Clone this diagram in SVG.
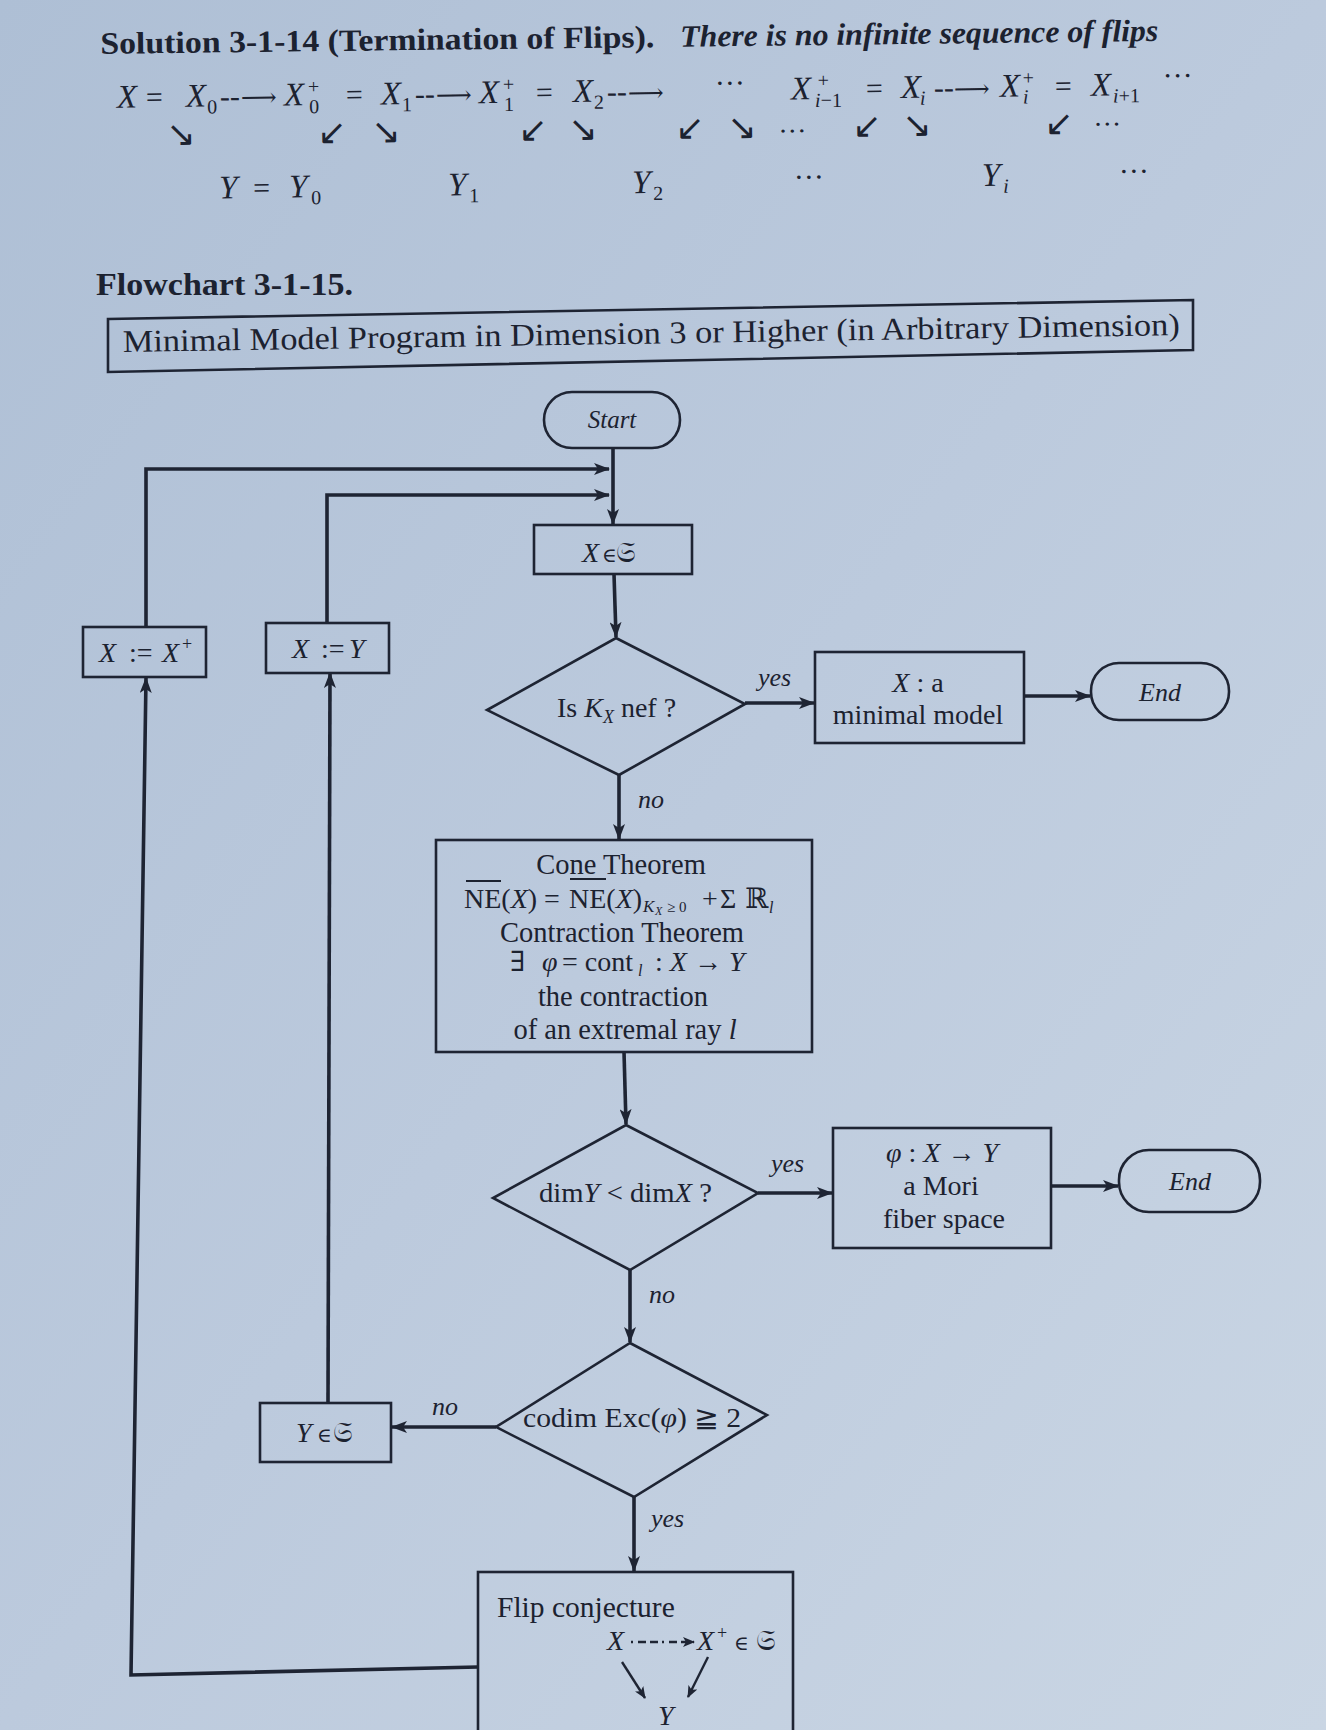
<svg xmlns="http://www.w3.org/2000/svg" width="1326" height="1730" viewBox="0 0 1326 1730">
<defs>
<linearGradient id="bg" x1="0" y1="0" x2="1" y2="1">
<stop offset="0" stop-color="#aebfd5"/>
<stop offset="0.5" stop-color="#bccadd"/>
<stop offset="1" stop-color="#cad6e4"/>
</linearGradient>
<marker id="ah" markerWidth="16" markerHeight="12" refX="15" refY="6" orient="auto" markerUnits="userSpaceOnUse">
<path d="M0,0 L16,6 L0,12 L4,6 z" fill="#1e2433"/>
</marker>
<marker id="ahs" markerWidth="12" markerHeight="10" refX="11" refY="5" orient="auto" markerUnits="userSpaceOnUse">
<path d="M0,0 L12,5 L0,10 L3,5 z" fill="#1e2433"/>
</marker>
<style>
.t{font-family:"Liberation Serif","DejaVu Serif",serif;fill:#1c2230}
.i{font-style:italic}
.b{font-weight:bold}
.ar{font-family:"DejaVu Sans",sans-serif;fill:#1c2230}
.n{fill:none;stroke:#1e2433;stroke-width:2.6}
.ca{fill:none;stroke:#1e2433;stroke-width:3.6;marker-end:url(#ah)}
.lbl{font-family:"Liberation Serif","DejaVu Serif",serif;font-style:italic;font-size:26px;fill:#1c2230}
.f{font-size:28px}
.x{font-size:33px;font-style:italic}
.s{font-size:20px}
.la{font-size:25px}
</style>
</defs>
<rect x="0" y="0" width="1326" height="1730" fill="url(#bg)"/>

<g id="header" transform="rotate(-0.7 660 100)">
<text x="101" y="47" class="t b" font-size="31" textLength="554" lengthAdjust="spacingAndGlyphs">Solution 3-1-14 (Termination of Flips).</text>
<text x="681" y="47" class="t b i" font-size="31" textLength="478" lengthAdjust="spacingAndGlyphs">There is no infinite sequence of flips</text>
<text class="t" font-size="30" y="101"><tspan x="117" y="101" class="x">X</tspan><tspan x="146" y="101">=</tspan><tspan x="186" y="101" class="x">X</tspan><tspan x="207" y="108" class="s">0</tspan><tspan x="220" y="101">--</tspan><tspan x="241" y="101" class="la">⟶</tspan><tspan x="284" y="101" class="x">X</tspan><tspan x="308" y="89" class="s">+</tspan><tspan x="309" y="109" class="s">0</tspan><tspan x="346" y="101">=</tspan><tspan x="381" y="101" class="x">X</tspan><tspan x="402" y="108" class="s">1</tspan><tspan x="415" y="101">--</tspan><tspan x="436" y="101" class="la">⟶</tspan><tspan x="479" y="101" class="x">X</tspan><tspan x="503" y="89" class="s">+</tspan><tspan x="504" y="109" class="s">1</tspan><tspan x="536" y="101">=</tspan><tspan x="573" y="101" class="x">X</tspan><tspan x="594" y="108" class="s">2</tspan><tspan x="607" y="101">--</tspan><tspan x="628" y="101" class="la">⟶</tspan><tspan x="715" y="94">···</tspan><tspan x="791" y="101" class="x">X</tspan><tspan x="818" y="89" class="s">+</tspan><tspan x="815" y="109" class="s"><tspan class="i">i</tspan>−1</tspan><tspan x="866" y="101">=</tspan><tspan x="901" y="101" class="x">X</tspan><tspan x="920" y="108" class="s i">i</tspan><tspan x="934" y="101">--</tspan><tspan x="954" y="101" class="la">⟶</tspan><tspan x="1000" y="101" class="x">X</tspan><tspan x="1023" y="89" class="s">+</tspan><tspan x="1023" y="108" class="s i">i</tspan><tspan x="1055" y="101">=</tspan><tspan x="1091" y="101" class="x">X</tspan><tspan x="1113" y="108" class="s"><tspan class="i">i</tspan>+1</tspan><tspan x="1163" y="92">···</tspan></text>
<text class="ar" font-size="35" y="140"><tspan x="166" y="140">↘</tspan><tspan x="317" y="140">↙</tspan><tspan x="371" y="140">↘</tspan><tspan x="518" y="140">↙</tspan><tspan x="568" y="140">↘</tspan><tspan x="675" y="140">↙</tspan><tspan x="727" y="140">↘</tspan><tspan x="852" y="140">↙</tspan><tspan x="902" y="140">↘</tspan><tspan x="1044" y="140">↙</tspan></text>
<text class="t" font-size="28"><tspan x="778" y="142">···</tspan><tspan x="1093" y="139">···</tspan></text>
<text class="t" font-size="30" y="193"><tspan x="218" y="193" class="x">Y</tspan><tspan x="252" y="193">=</tspan><tspan x="288" y="193" class="x">Y</tspan><tspan x="310" y="200" class="s">0</tspan><tspan x="447" y="193" class="x">Y</tspan><tspan x="468" y="200" class="s">1</tspan><tspan x="631" y="193" class="x">Y</tspan><tspan x="652" y="200" class="s">2</tspan><tspan x="793" y="189">···</tspan><tspan x="981" y="190" class="x">Y</tspan><tspan x="1002" y="197" class="s i">i</tspan><tspan x="1118" y="187">···</tspan></text>
</g>

<g id="caption">
<text x="96" y="295" class="t b" font-size="31" textLength="257" lengthAdjust="spacingAndGlyphs">Flowchart 3-1-15.</text>
</g>
<g id="title">
<polygon points="108,319 1193,300 1193,350 108,372" class="n"/>
<text x="123" y="352" class="t" font-size="31.5" transform="rotate(-0.92 123 352)" textLength="1057" lengthAdjust="spacingAndGlyphs">Minimal Model Program in Dimension 3 or Higher (in Arbitrary Dimension)</text>
</g>

<g id="connectors">
<line x1="613" y1="448" x2="613" y2="524" class="ca"/>
<polyline points="146,626 146,469 609,469" class="ca"/>
<polyline points="327,623 327,495 609,495" class="ca"/>
<line x1="614" y1="574" x2="616" y2="637" class="ca"/>
<line x1="745" y1="703" x2="814" y2="703" class="ca"/>
<line x1="1024" y1="696" x2="1090" y2="696" class="ca"/>
<line x1="619" y1="775" x2="619" y2="839" class="ca"/>
<line x1="624" y1="1052" x2="626" y2="1124" class="ca"/>
<line x1="758" y1="1193" x2="832" y2="1193" class="ca"/>
<line x1="1051" y1="1186" x2="1118" y2="1186" class="ca"/>
<line x1="630" y1="1270" x2="630" y2="1342" class="ca"/>
<line x1="496" y1="1427" x2="392" y2="1427" class="ca"/>
<line x1="634" y1="1497" x2="634" y2="1571" class="ca"/>
<polyline points="478,1667 131,1675 146,678" class="ca"/>
<line x1="328" y1="1403" x2="330" y2="673" class="ca"/>
<text x="758" y="686" class="lbl">yes</text>
<text x="638" y="808" class="lbl">no</text>
<text x="771" y="1172" class="lbl">yes</text>
<text x="649" y="1303" class="lbl">no</text>
<text x="432" y="1415" class="lbl">no</text>
<text x="651" y="1527" class="lbl">yes</text>
</g>

<g id="start">
<rect x="544" y="392" width="136" height="56" rx="28" class="n"/>
<text x="612" y="428" class="t i" font-size="25" text-anchor="middle">Start</text>
</g>

<g id="x-in-s">
<rect x="534" y="525" width="158" height="49" class="n"/>
<text class="t f" y="562"><tspan x="582" class="i">X</tspan><tspan x="602" font-size="20">∈</tspan><tspan x="616">𝔖</tspan></text>
</g>

<g id="assign-xplus">
<rect x="83" y="627" width="123" height="50" class="n"/>
<text class="t f" y="662"><tspan x="99" class="i">X</tspan><tspan x="122"> :=</tspan><tspan x="162" class="i">X</tspan><tspan x="182" y="650" font-size="18">+</tspan></text>
</g>

<g id="assign-y">
<rect x="266" y="623" width="123" height="50" class="n"/>
<text class="t f" y="658"><tspan x="292" class="i">X</tspan><tspan x="314"> :=</tspan><tspan x="349" class="i">Y</tspan></text>
</g>

<g id="q-nef">
<polygon points="616,638 745,704 619,775 487,710" class="n"/>
<text class="t f" y="717"><tspan x="557">Is </tspan><tspan class="i">K</tspan><tspan class="i" font-size="18" dy="6">X</tspan><tspan dy="-6"> nef ?</tspan></text>
</g>

<g id="minimal-model">
<rect x="815" y="652" width="209" height="91" class="n"/>
<text class="t f" y="692" text-anchor="middle" x="918"><tspan class="i">X</tspan> : a</text>
<text class="t f" y="724" text-anchor="middle" x="918">minimal model</text>
</g>

<g id="end1">
<rect x="1091" y="663" width="138" height="57" rx="28" class="n"/>
<text x="1160" y="701" class="t i" font-size="26" text-anchor="middle">End</text>
</g>

<g id="cone">
<rect x="436" y="840" width="376" height="212" class="n"/>
<text x="621" y="874" class="t" font-size="28.5" text-anchor="middle">Cone Theorem</text>
<line x1="466" y1="881" x2="501" y2="881" stroke="#1c2230" stroke-width="2"/>
<line x1="570" y1="879" x2="606" y2="879" stroke="#1c2230" stroke-width="2"/>
<text class="t f" y="908"><tspan x="464">NE(</tspan><tspan class="i">X</tspan><tspan>) = </tspan><tspan x="569">NE(</tspan><tspan class="i">X</tspan><tspan>)</tspan><tspan x="643" y="912" font-size="17" class="i">K</tspan><tspan x="655" y="915" font-size="12" class="i">X</tspan><tspan x="667" y="912" font-size="15">≥ 0</tspan><tspan x="702" y="908">+</tspan><tspan x="720" y="908">Σ</tspan><tspan x="745" y="908">ℝ</tspan><tspan x="769" y="913" font-size="16" class="i">l</tspan></text>
<text x="622" y="942" class="t" font-size="28.5" text-anchor="middle">Contraction Theorem</text>
<text class="t f" y="971"><tspan x="510">∃</tspan><tspan x="542" class="i">φ</tspan><tspan x="562">= cont</tspan><tspan x="638" y="976" font-size="16" class="i">l</tspan><tspan x="655" y="971">: </tspan><tspan class="i">X</tspan><tspan> → </tspan><tspan class="i">Y</tspan></text>
<text x="623" y="1006" class="t" font-size="28.5" text-anchor="middle">the contraction</text>
<text x="625" y="1039" class="t" font-size="28.5" text-anchor="middle">of an extremal ray <tspan class="i">l</tspan></text>
</g>

<g id="q-dim">
<polygon points="626,1125 758,1193 630,1270 493,1198" class="n"/>
<text class="t" font-size="28" y="1202" x="539" textLength="173" lengthAdjust="spacingAndGlyphs">dim<tspan class="i">Y</tspan> &lt; dim<tspan class="i">X</tspan> ?</text>
</g>

<g id="mori">
<rect x="833" y="1128" width="218" height="120" class="n"/>
<text class="t f" y="1162" x="942" text-anchor="middle"><tspan class="i">φ</tspan> : <tspan class="i">X</tspan> → <tspan class="i">Y</tspan></text>
<text class="t f" y="1195" x="941" text-anchor="middle">a Mori</text>
<text class="t f" y="1228" x="944" text-anchor="middle">fiber space</text>
</g>

<g id="end2">
<rect x="1119" y="1150" width="141" height="62" rx="30" class="n"/>
<text x="1190" y="1190" class="t i" font-size="26" text-anchor="middle">End</text>
</g>

<g id="q-codim">
<polygon points="630,1343 767,1415 634,1497 496,1427" class="n"/>
<text class="t" font-size="28" y="1427" x="523" textLength="218" lengthAdjust="spacingAndGlyphs">codim Exc(<tspan class="i">φ</tspan>) ≧ 2</text>
</g>

<g id="y-in-s">
<rect x="260" y="1403" width="131" height="59" class="n"/>
<text class="t f" y="1442"><tspan x="296" class="i">Y</tspan><tspan x="317" font-size="20">∈</tspan><tspan x="333">𝔖</tspan></text>
</g>

<g id="flip">
<rect x="478" y="1572" width="315" height="200" class="n"/>
<text x="497" y="1617" class="t" font-size="29.5">Flip conjecture</text>
<text class="t f" y="1650"><tspan x="607" class="i">X</tspan><tspan x="697" class="i">X</tspan><tspan x="717" y="1639" font-size="18">+</tspan><tspan x="734" y="1650" font-size="20">∈</tspan><tspan x="756" y="1650">𝔖</tspan></text>
<line x1="631" y1="1642" x2="694" y2="1642" stroke="#1e2433" stroke-width="2.4" stroke-dasharray="2,5,8,4,8,4" marker-end="url(#ahs)"/>
<line x1="622" y1="1662" x2="645" y2="1698" stroke="#1e2433" stroke-width="2.4" marker-end="url(#ahs)"/>
<line x1="708" y1="1657" x2="688" y2="1697" stroke="#1e2433" stroke-width="2.4" marker-end="url(#ahs)"/>
<text x="658" y="1725" class="t i f">Y</text>
</g>
</svg>
